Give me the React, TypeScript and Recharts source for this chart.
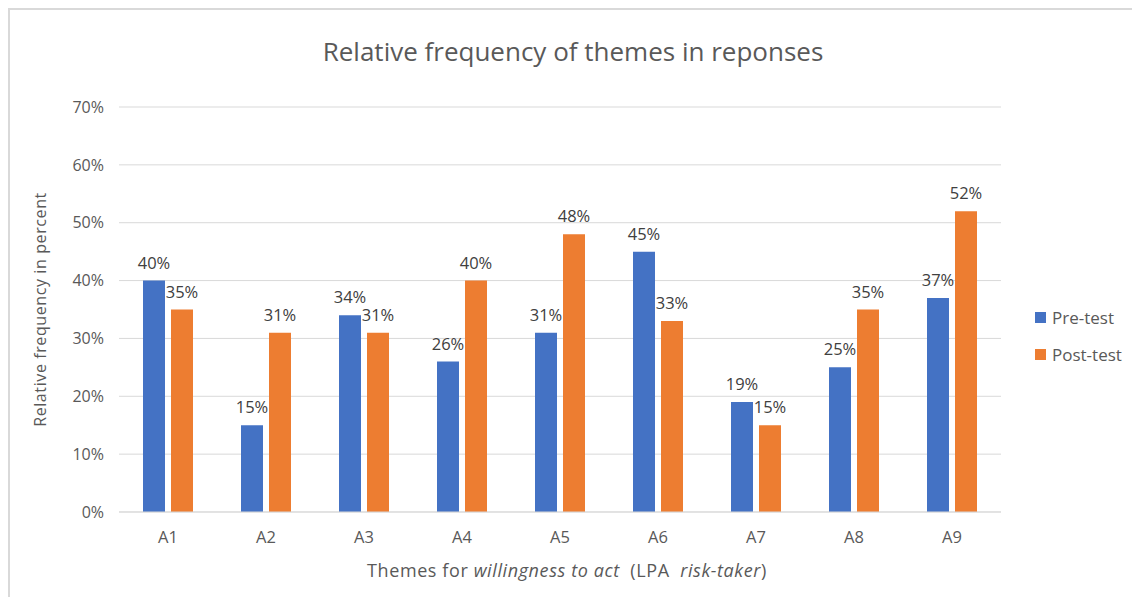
import React from 'react';
import { BarChart, Bar, XAxis, YAxis, CartesianGrid, LabelList } from 'recharts';

const categories = ['A1', 'A2', 'A3', 'A4', 'A5', 'A6', 'A7', 'A8', 'A9'];
const preTest = [40, 15, 34, 26, 31, 45, 19, 25, 37];
const postTest = [35, 31, 31, 40, 48, 33, 15, 35, 52];
const yTicks = [0, 10, 20, 30, 40, 50, 60, 70];

const BLUE = '#4472C4';
const ORANGE = '#ED7D31';
const TEXT = '#595959';
const FONT = '"Open Sans", sans-serif';

const data = categories.map((name, i) => ({ name, pre: preTest[i], post: postTest[i] }));

const XLabel = ({ viewBox }: any) => (
    <text
        x={viewBox.x + viewBox.width / 2 + 7}
        y={567}
        textAnchor="middle"
        fill={TEXT}
        fontSize={18}
        letterSpacing={0.6}
        fontFamily={FONT}
        style={{ whiteSpace: 'pre' }}
    >
        Themes for <tspan fontStyle="italic">willingness to act</tspan>{'\u00a0\u00a0'}(LPA{'\u00a0\u00a0'}<tspan fontStyle="italic">risk-taker</tspan>)
    </text>
);

const YLabel = ({ viewBox }: any) => {
    const cy = viewBox.y + viewBox.height / 2;
    return (
        <text
            x={30}
            y={cy}
            transform={`rotate(-90, 30, ${cy})`}
            textAnchor="middle"
            dominantBaseline="central"
            fill={TEXT}
            fontSize={16}
            letterSpacing={0.6}
            fontFamily={FONT}
        >
            Relative frequency in percent
        </text>
    );
};

const legendItems = [
    { c: BLUE, t: 'Pre-test' },
    { c: ORANGE, t: 'Post-test' },
];

export default function App() {
    return (
        <div
            style={{
                position: 'relative',
                width: 1122,
                height: 587,
                borderTop: '2px solid #d9d9d9',
                borderLeft: '2px solid #d9d9d9',
                background: '#fff',
            }}
        >
            <div
                style={{
                    position: 'absolute',
                    left: 0,
                    width: 1126,
                    top: 23,
                    textAlign: 'center',
                    fontFamily: FONT,
                    fontSize: 26,
                    color: TEXT,
                    pointerEvents: 'none',
                    zIndex: 2,
                }}
            >
                Relative frequency of themes in reponses
            </div>
            <div
                style={{
                    position: 'absolute',
                    left: 1025,
                    top: 296,
                    fontFamily: FONT,
                    fontSize: 17,
                    color: TEXT,
                    zIndex: 2,
                }}
            >
                {legendItems.map((it, i) => (
                    <div key={it.t} style={{ display: 'flex', alignItems: 'center', height: 22, marginBottom: i === 0 ? 15 : 0 }}>
                        <span style={{ width: 11, height: 11, background: it.c, display: 'inline-block', marginRight: 6 }} />
                        <span>{it.t}</span>
                    </div>
                ))}
            </div>
            <BarChart
                width={1122}
                height={587}
                data={data}
                margin={{ top: 97, right: 131, left: 49, bottom: 55 }}
                barSize={22}
                barGap={6}
            >
                <CartesianGrid vertical={false} stroke="#d9d9d9" />
                <XAxis
                    dataKey="name"
                    height={30}
                    tickLine={false}
                    axisLine={{ stroke: '#d9d9d9' }}
                    tickMargin={13}
                    tick={{ fill: TEXT, fontSize: 16.5, fontFamily: FONT }}
                    label={<XLabel />}
                />
                <YAxis
                    width={60}
                    domain={[0, 70]}
                    ticks={yTicks}
                    interval={0}
                    tickFormatter={(v: number) => `${v}%`}
                    axisLine={false}
                    tickLine={false}
                    tickMargin={9}
                    tick={{ fill: TEXT, fontSize: 16, fontFamily: FONT }}
                    label={<YLabel />}
                />
                <Bar dataKey="pre" name="Pre-test" fill={BLUE} isAnimationActive={false}>
                    <LabelList
                        dataKey="pre"
                        position="top"
                        offset={12}
                        formatter={(v: any) => `${v}%`}
                        style={{ fill: '#404040', fontSize: 16.5, fontFamily: FONT }}
                    />
                </Bar>
                <Bar dataKey="post" name="Post-test" fill={ORANGE} isAnimationActive={false}>
                    <LabelList
                        dataKey="post"
                        position="top"
                        offset={12}
                        formatter={(v: any) => `${v}%`}
                        style={{ fill: '#404040', fontSize: 16.5, fontFamily: FONT }}
                    />
                </Bar>
            </BarChart>
        </div>
    );
}
